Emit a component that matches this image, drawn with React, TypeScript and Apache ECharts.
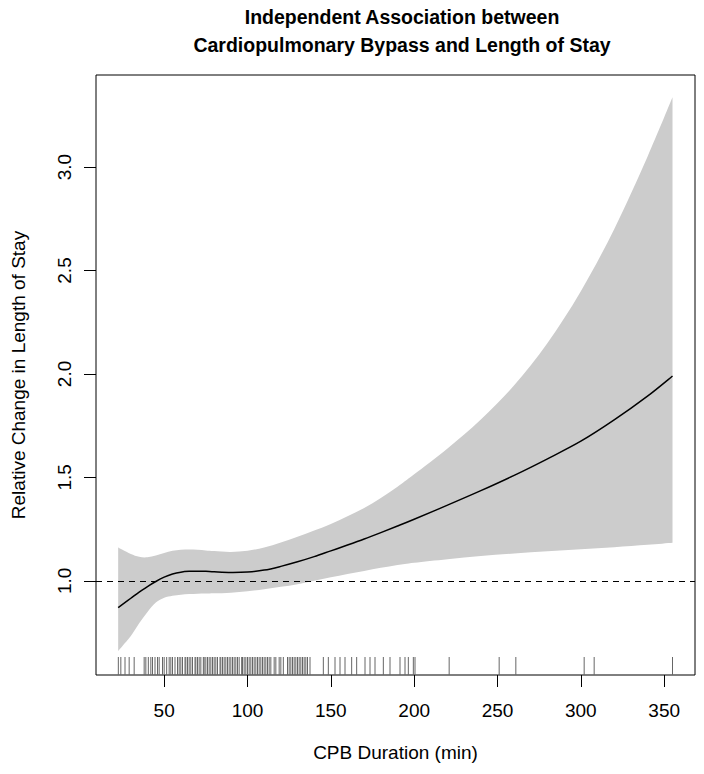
import React, { useEffect, useRef } from "react";
import * as echarts from "echarts";

// CPB duration grid (min) at which the smooth estimate was read
const xs = [22.4, 25, 30, 35, 40, 45, 50, 55, 60, 65, 70, 75, 80, 90, 100, 110, 120, 130, 140, 150, 160, 170, 180, 190, 200, 220, 240, 260, 280, 300, 320, 340, 355];
// Relative change in length of stay (fit)
const fit = [0.871, 0.886, 0.916, 0.946, 0.972, 0.997, 1.018, 1.033, 1.042, 1.046, 1.047, 1.046, 1.044, 1.041, 1.043, 1.052, 1.07, 1.092, 1.117, 1.145, 1.173, 1.202, 1.233, 1.265, 1.298, 1.366, 1.436, 1.51, 1.59, 1.675, 1.778, 1.893, 1.99];
// Upper confidence limit
const upper = [1.161, 1.15, 1.13, 1.116, 1.114, 1.122, 1.135, 1.145, 1.15, 1.151, 1.15, 1.147, 1.144, 1.14, 1.146, 1.161, 1.185, 1.213, 1.243, 1.275, 1.312, 1.352, 1.4, 1.455, 1.515, 1.64, 1.78, 1.945, 2.15, 2.4, 2.7, 3.05, 3.337];
// Lower confidence limit
const lower = [0.661, 0.685, 0.733, 0.795, 0.85, 0.895, 0.918, 0.928, 0.933, 0.936, 0.938, 0.939, 0.94, 0.943, 0.95, 0.96, 0.971, 0.984, 1.0, 1.017, 1.033, 1.048, 1.063, 1.077, 1.088, 1.105, 1.12, 1.132, 1.143, 1.153, 1.163, 1.174, 1.184];
// Observed CPB durations (rug)
const rug = [22.5, 24, 26.5, 29, 32, 38, 39, 40.5, 42, 43, 44.5, 46, 47, 49, 50, 51.5, 53, 54, 55, 56.5, 58, 59, 60, 61, 62.5, 63, 64, 65, 66, 67, 68.5, 69, 70, 71, 72, 73.5, 74, 75, 76, 77, 78, 79, 80, 81, 82, 83.5, 84, 85, 86, 87, 88, 89, 90, 91, 92, 93, 94, 95, 96.5, 97, 98, 99, 100, 101, 102, 103, 104, 105, 106, 107, 108, 109, 110, 111, 112, 113, 114, 116, 117, 119, 120, 121.5, 124, 125, 126, 127, 128, 129, 130, 131, 132, 133, 134, 135, 136, 137.5, 145.5, 148.5, 152.5, 155.5, 158.5, 162.5, 165.5, 170.5, 173.5, 176.5, 181.5, 185.5, 191.5, 194.5, 196.5, 199.5, 200.5, 221, 251, 261, 302, 308, 355];
const xTicks = [50, 100, 150, 200, 250, 300, 350];
const yTicks = [1.0, 1.5, 2.0, 2.5, 3.0];
const refLevel = 1;
const titleText = "Independent Association between\nCardiopulmonary Bypass and Length of Stay";
const xName = "CPB Duration (min)";
const yName = "Relative Change in Length of Stay";

// Catmull-Rom spline through pixel points (rendering only)
function splineTo(ctx: any, p: number[][], start: boolean) {
  if (start) ctx.moveTo(p[0][0], p[0][1]);
  else ctx.lineTo(p[0][0], p[0][1]);
  const n = p.length;
  for (let i = 0; i < n - 1; i++) {
    const p0 = p[Math.max(i - 1, 0)];
    const p1 = p[i];
    const p2 = p[i + 1];
    const p3 = p[Math.min(i + 2, n - 1)];
    ctx.bezierCurveTo(
      p1[0] + (p2[0] - p0[0]) / 6, p1[1] + (p2[1] - p0[1]) / 6,
      p2[0] - (p3[0] - p1[0]) / 6, p2[1] - (p3[1] - p1[1]) / 6,
      p2[0], p2[1]
    );
  }
}

const BandShape = echarts.graphic.extendShape({
  shape: { top: [] as number[][], bottom: [] as number[][] },
  buildPath(ctx: any, shape: any) {
    if (!shape.top.length) return;
    splineTo(ctx, shape.top, true);
    splineTo(ctx, shape.bottom.slice().reverse(), false);
    ctx.closePath();
  },
});
echarts.graphic.registerShape("ciband", BandShape);

const CurveShape = echarts.graphic.extendShape({
  shape: { pts: [] as number[][] },
  style: { fill: null, stroke: "#000" },
  buildPath(ctx: any, shape: any) {
    if (!shape.pts.length) return;
    splineTo(ctx, shape.pts, true);
  },
});
echarts.graphic.registerShape("fitcurve", CurveShape);

export default function App() {
  const ref = useRef<HTMLDivElement>(null);
  useEffect(() => {
    document.body.style.margin = "0";
    const chart = echarts.init(ref.current!, null, { renderer: "svg" });
    const X_MIN = 9.1, X_MAX = 368.5, Y_MIN = 0.545, Y_MAX = 3.445;
    const font = "'Liberation Sans', Arial, Helvetica, sans-serif";
    const RUG_LEN = 18;
    chart.setOption({
      animation: false,
      backgroundColor: "#ffffff",
      title: {
        text: titleText,
        left: 397,
        top: -2,
        textAlign: "center",
        textStyle: { fontFamily: font, fontWeight: "bold", fontSize: 19.5, lineHeight: 28, color: "#000" },
      },
      grid: { left: 96, right: 9, top: 75, bottom: 99, show: true, borderColor: "#000", borderWidth: 1, backgroundColor: "transparent" },
      xAxis: {
        type: "value",
        min: X_MIN,
        max: X_MAX,
        axisLine: { show: false },
        splitLine: { show: false },
        axisTick: { show: true, inside: false, length: 12, customValues: xTicks, lineStyle: { color: "#000", width: 1 } },
        axisLabel: { customValues: xTicks, margin: 26, fontSize: 19, fontFamily: font, color: "#000" },
        name: xName,
        nameLocation: "middle",
        nameGap: 68,
        nameTextStyle: { fontSize: 19, fontFamily: font, color: "#000" },
      },
      yAxis: {
        type: "value",
        min: Y_MIN,
        max: Y_MAX,
        axisLine: { show: false },
        splitLine: { show: false },
        axisTick: { show: true, inside: false, length: 12, customValues: yTicks, lineStyle: { color: "#000", width: 1 } },
        axisLabel: {
          customValues: yTicks,
          rotate: 90,
          margin: 22,
          fontSize: 19,
          fontFamily: font,
          color: "#000",
          formatter: (v: number) => v.toFixed(1),
        },
        name: yName,
        nameLocation: "middle",
        nameGap: 68,
        nameTextStyle: { fontSize: 19, fontFamily: font, color: "#000" },
      },
      series: [
        {
          type: "custom",
          data: [[xs[0], lower[0]]],
          encode: { x: 0, y: 1 },
          silent: true,
          z: 1,
          renderItem: (_params: any, api: any) => {
            const top = xs.map((x, i) => api.coord([x, upper[i]]));
            const bottom = xs.map((x, i) => api.coord([x, lower[i]]));
            return {
              type: "ciband",
              shape: { top, bottom },
              style: { fill: "#cccccc", stroke: "none" },
            };
          },
        },
        {
          type: "custom",
          data: [[xs[0], fit[0]]],
          encode: { x: 0, y: 1 },
          silent: true,
          z: 3,
          renderItem: (_params: any, api: any) => {
            const pts = xs.map((x, i) => api.coord([x, fit[i]]));
            return {
              type: "fitcurve",
              shape: { pts },
              style: { fill: "none", stroke: "#000", lineWidth: 1.5 },
            };
          },
        },
        {
          type: "line",
          data: [],
          symbol: "none",
          silent: true,
          z: 3,
          markLine: {
            symbol: "none",
            silent: true,
            label: { show: false },
            lineStyle: { type: [6, 5], color: "#000", width: 1 },
            data: [{ yAxis: refLevel }],
          },
        },
        {
          type: "custom",
          data: rug.map((v) => [v, Y_MIN]),
          encode: { x: 0, y: 1 },
          silent: true,
          z: 2,
          renderItem: (_params: any, api: any) => {
            const p = api.coord([api.value(0), api.value(1)]);
            return {
              type: "line",
              shape: { x1: p[0], y1: p[1], x2: p[0], y2: p[1] - RUG_LEN },
              style: { stroke: "#666", lineWidth: 1 },
            };
          },
        },
      ],
    });
    return () => chart.dispose();
  }, []);
  return <div ref={ref} style={{ width: 704, height: 774 }} />;
}
